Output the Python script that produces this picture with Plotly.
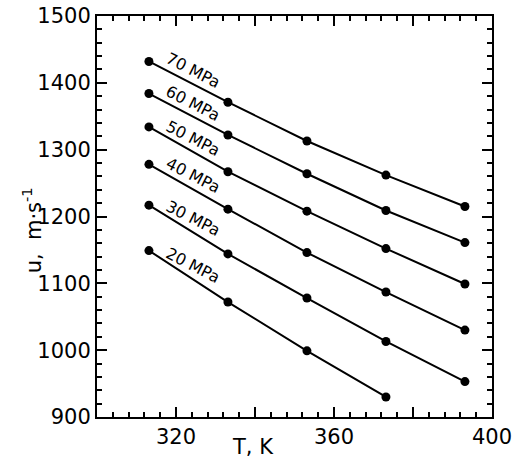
import plotly.graph_objects as go

temps = [313.15, 333.15, 353.15, 373.15, 393.15]
pressures = ["70 MPa", "60 MPa", "50 MPa", "40 MPa", "30 MPa", "20 MPa"]
u_70 = [1432, 1371, 1313, 1262, 1215]
u_60 = [1384, 1322, 1264, 1209, 1161]
u_50 = [1334, 1267, 1208, 1152, 1099]
u_40 = [1278, 1211, 1146, 1087, 1030]
u_30 = [1217, 1144, 1078, 1013, 953]
u_20 = [1149, 1072, 999, 930]
series = [u_70, u_60, u_50, u_40, u_30, u_20]

x_tickvals = [300, 320, 340, 360, 380, 400]
x_ticktext = ["", "320", "", "360", "", "400"]
y_tickvals = [900, 1000, 1100, 1200, 1300, 1400, 1500]
y_ticktext = ["900", "1000", "1100", "1200", "1300", "1400", "1500"]

FONT = "DejaVu Sans"
fig = go.Figure()
for name, vals in zip(pressures, series):
    fig.add_trace(go.Scatter(
        x=temps[:len(vals)], y=vals, mode="lines+markers", name=name,
        line=dict(color="black", width=2),
        marker=dict(color="black", size=9),
        showlegend=False,
    ))
    xm = (temps[0] + temps[1]) / 2
    ym = (vals[0] + vals[1]) / 2
    fig.add_annotation(
        x=xm, y=ym, text=name, showarrow=False, textangle=27,
        xshift=5, yshift=11,
        font=dict(family=FONT, size=16, color="black"),
    )

fig.update_layout(
    width=516, height=463,
    margin=dict(l=97, r=24, t=16, b=46),
    paper_bgcolor="white", plot_bgcolor="white",
    font=dict(family=FONT, color="black"),
)
fig.add_annotation(
    x=0.395, y=-0.04, xref="paper", yref="paper", xanchor="center", yanchor="top",
    text="T, K", showarrow=False, font=dict(family=FONT, size=21, color="black"),
)
fig.add_annotation(
    x=-0.165, y=0.465, xref="paper", yref="paper", xanchor="center", yanchor="middle",
    text="u,  m·s<sup>-1</sup>", showarrow=False, textangle=-90,
    font=dict(family=FONT, size=21, color="black"),
)
fig.update_xaxes(
    range=[300, 400], tickvals=x_tickvals, ticktext=x_ticktext,
    ticks="inside", ticklen=10, tickwidth=2, tickcolor="black",
    minor=dict(dtick=4, tick0=300, ticks="inside", ticklen=5, tickwidth=2, tickcolor="black"),
    showline=True, linecolor="black", linewidth=2, mirror="allticks",
    showgrid=False, zeroline=False, automargin=False, ticklabeloverflow="allow",
    tickfont=dict(family=FONT, size=21, color="black"),
)
fig.update_yaxes(
    range=[900, 1500], tickvals=y_tickvals, ticktext=y_ticktext,
    ticks="inside", ticklen=10, tickwidth=2, tickcolor="black",
    minor=dict(dtick=20, tick0=900, ticks="inside", ticklen=5, tickwidth=2, tickcolor="black"),
    showline=True, linecolor="black", linewidth=2, mirror="allticks",
    showgrid=False, zeroline=False, automargin=False, ticklabeloverflow="allow",
    tickfont=dict(family=FONT, size=21, color="black"),
)
fig.write_html("out.html", config={"displayModeBar": False},
               post_script="document.body.style.margin='0';")
